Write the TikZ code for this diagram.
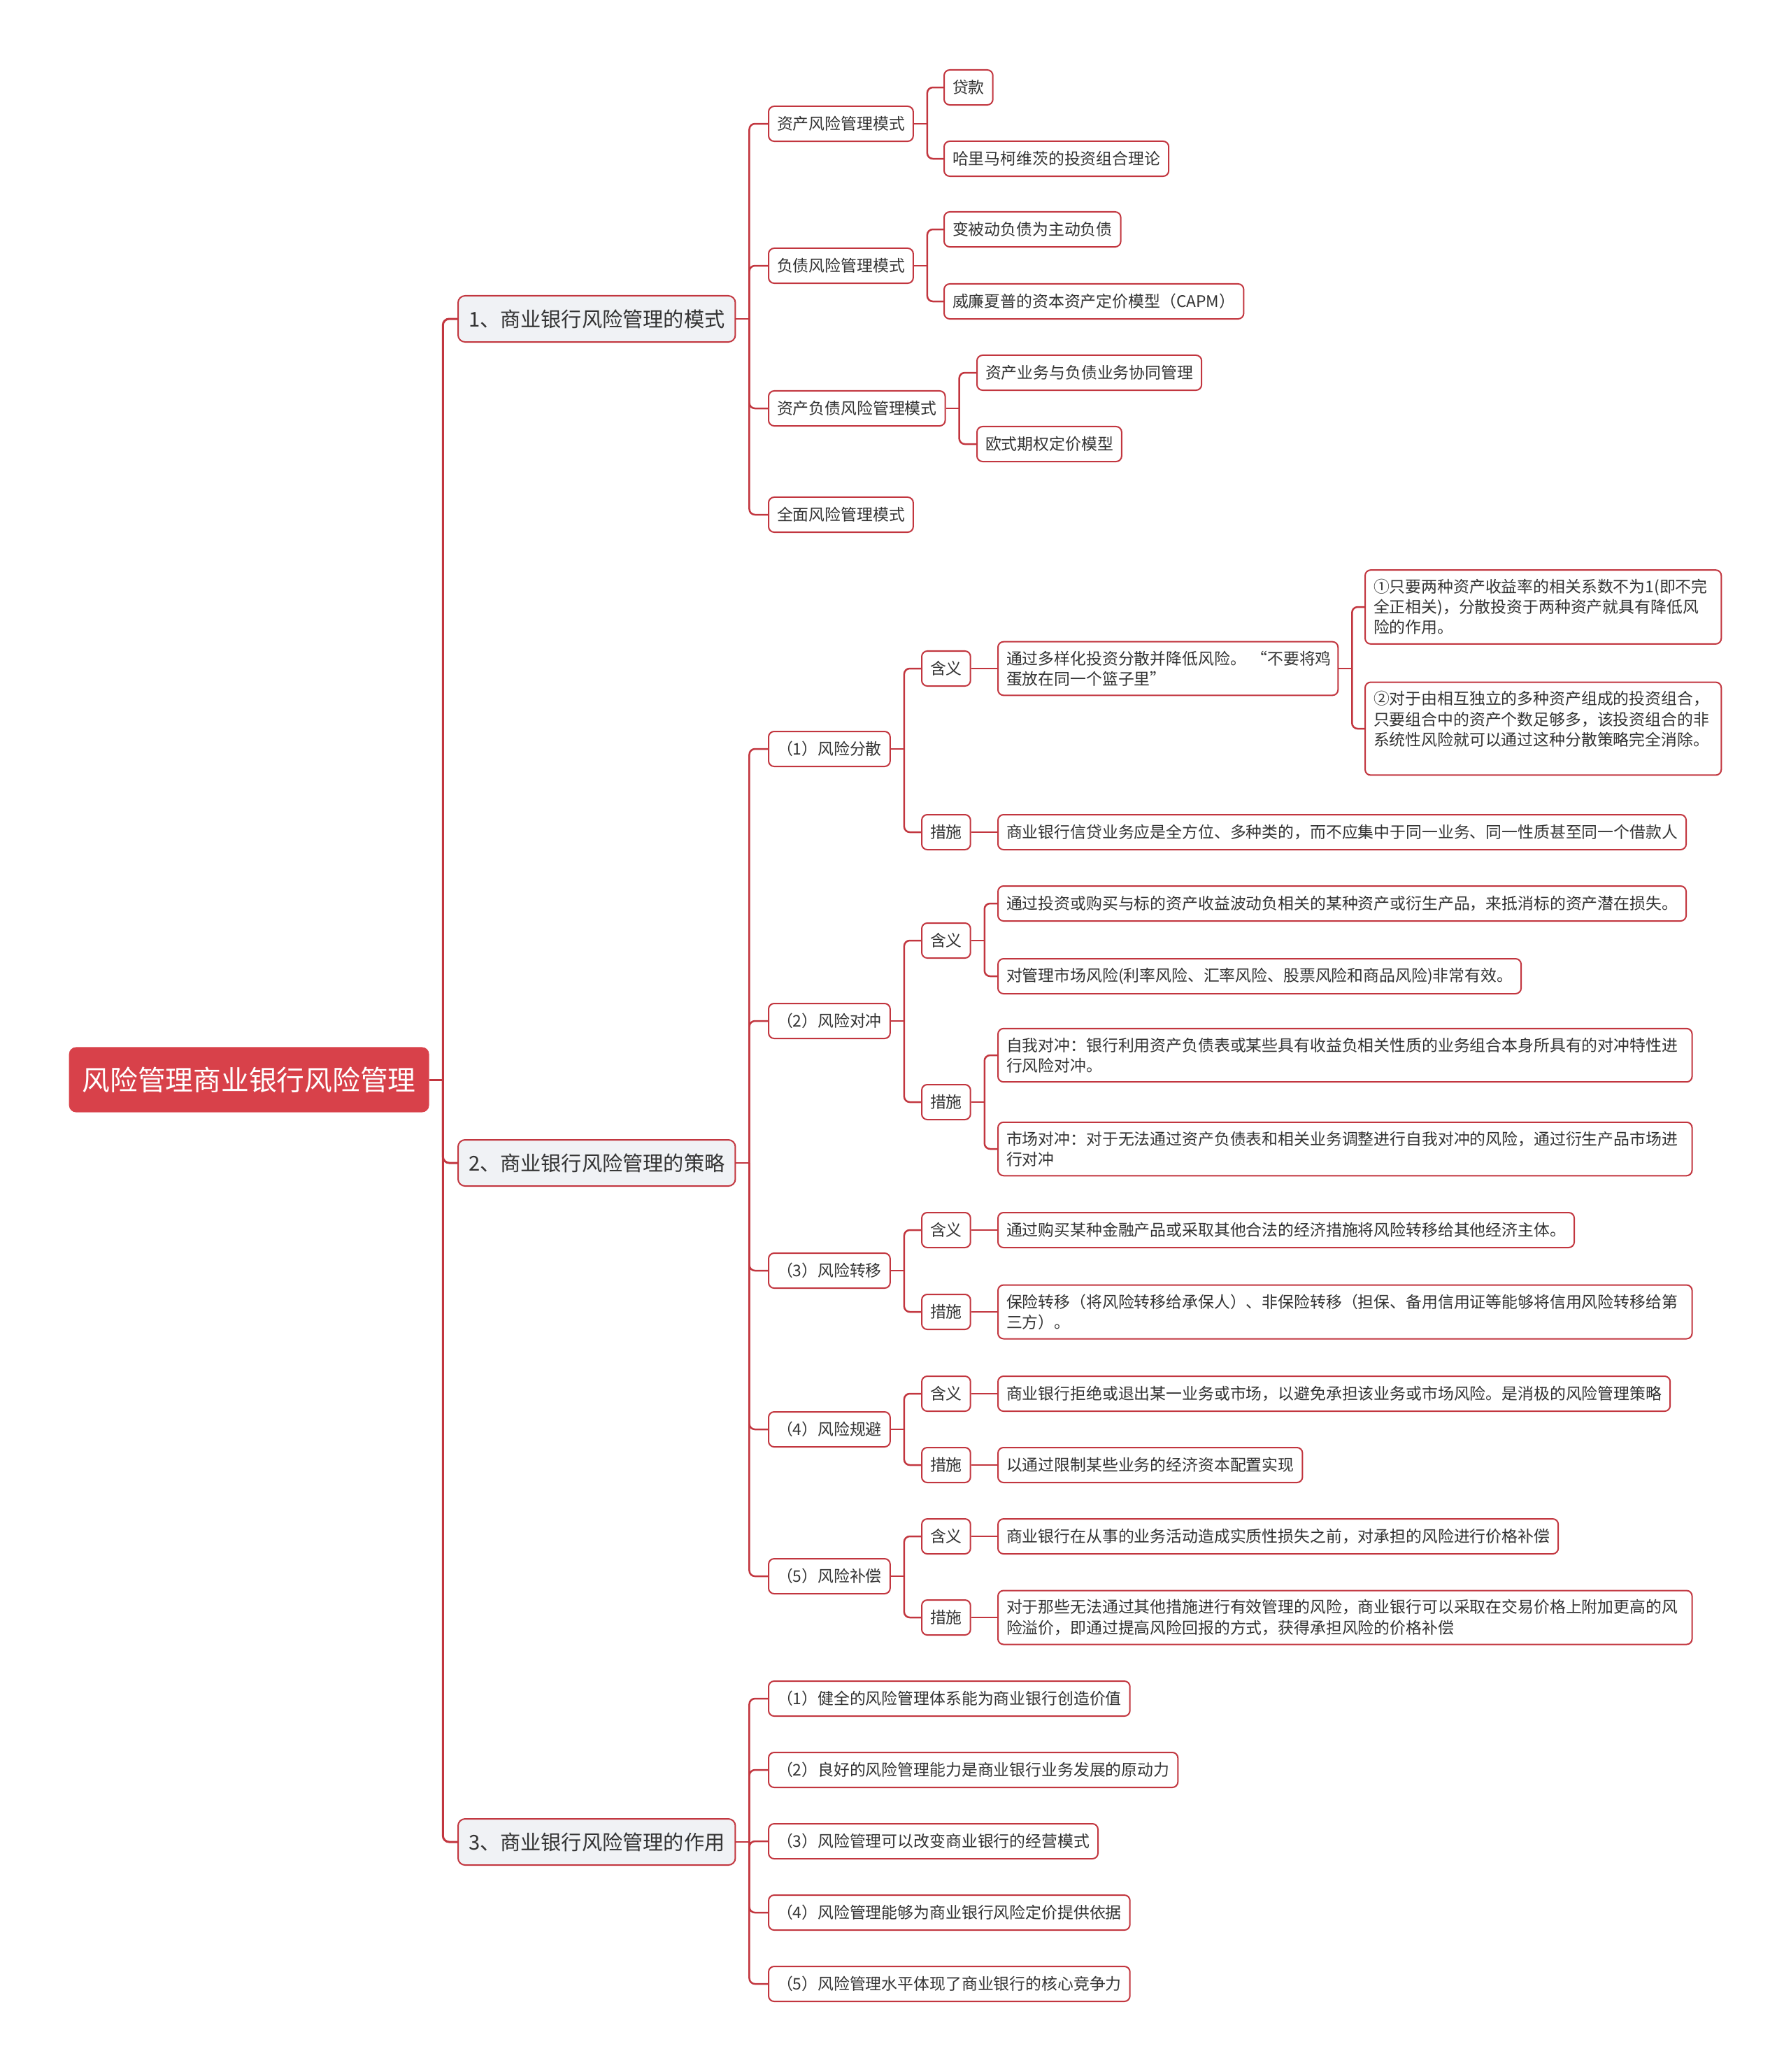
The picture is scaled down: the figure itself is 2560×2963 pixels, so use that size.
\documentclass[tikz,border=0pt]{standalone}
\usepackage{fontspec}
\setmainfont{Noto Sans CJK SC}

\definecolor{rootred}{HTML}{D8414A}
\definecolor{linered}{HTML}{C2363F}
\definecolor{topicgrey}{HTML}{F0F2F5}
\definecolor{inkgrey}{HTML}{333333}

\tikzstyle{rootbox} = [rectangle, rounded corners=1mm, fill=rootred, text=white,
    font=\fontsize{11.3}{13}\selectfont, inner xsep=1.9mm, minimum height=0.93cm, anchor=west]
\tikzstyle{topicbox} = [rectangle, rounded corners=1mm, draw=linered, line width=0.2mm,
    fill=topicgrey, text=inkgrey, font=\fontsize{8.3}{10}\selectfont,
    inner xsep=1.5mm, minimum height=0.66cm, anchor=west]
\tikzstyle{leafbox} = [rectangle, rounded corners=0.8mm, draw=linered, line width=0.2mm,
    fill=white, text=inkgrey, font=\fontsize{6.5}{8.3}\selectfont,
    inner xsep=1.2mm, inner ysep=1.3mm, minimum height=0.5cm, anchor=west]
\tikzstyle{parabox} = [leafbox, text width=9.68cm, align=left]
\tikzstyle{trunk} = [draw=linered, line width=0.3mm, rounded corners=0.9mm]
\tikzstyle{branch} = [draw=linered, line width=0.25mm, rounded corners=0.8mm]

\begin{document}
\begin{tikzpicture}[x=0.01cm, y=-0.01cm]
\useasboundingbox (0,0) rectangle (2560,2963);

\node (Root) [rootbox] at (98,1544) {风险管理商业银行风险管理};

%Topics
\node (Modes) [topicbox] at (654,456) {1、商业银行风险管理的模式};
\node (Strategy) [topicbox] at (654,1663) {2、商业银行风险管理的策略};
\node (Role) [topicbox] at (654,2634) {3、商业银行风险管理的作用};

%Modes
\node (AssetMode) [leafbox] at (1098,177) {资产风险管理模式};
\node (Loan) [leafbox] at (1349,125) {贷款};
\node (Markowitz) [leafbox] at (1349,227) {哈里马柯维茨的投资组合理论};
\node (LiabMode) [leafbox] at (1098,380) {负债风险管理模式};
\node (ActiveLiab) [leafbox] at (1349,328) {变被动负债为主动负债};
\node (Capm) [leafbox] at (1349,431) {威廉夏普的资本资产定价模型（CAPM）};
\node (AlmMode) [leafbox] at (1098,584) {资产负债风险管理模式};
\node (Synergy) [leafbox] at (1396,533) {资产业务与负债业务协同管理};
\node (OptionModel) [leafbox] at (1396,635) {欧式期权定价模型};
\node (TotalMode) [leafbox] at (1098,736) {全面风险管理模式};

%Strategies
\node (Diversify) [leafbox] at (1098,1071) {（1）风险分散};
\node (DivMean) [leafbox] at (1317,956) {含义};
\node (DivText) [leafbox, text width=4.62cm, align=left] at (1426,956)
    {通过多样化投资分散并降低风险。~“不要将鸡\\蛋放在同一个篮子里”};
\node (DivPointA) [leafbox, text width=4.85cm, align=left] at (1951,868)
    {①只要两种资产收益率的相关系数不为1(即不完\\全正相关)，分散投资于两种资产就具有降低风\\险的作用。};
\node (DivPointB) [leafbox, text width=4.85cm, align=left] at (1951,1042)
    {②对于由相互独立的多种资产组成的投资组合，\\只要组合中的资产个数足够多，该投资组合的非\\系统性风险就可以通过这种分散策略完全消除。\\ \mbox{}};
\node (DivMeasure) [leafbox] at (1317,1190) {措施};
\node (DivMeasureText) [leafbox] at (1426,1190) {商业银行信贷业务应是全方位、多种类的，而不应集中于同一业务、同一性质甚至同一个借款人};

\node (Hedge) [leafbox] at (1098,1460) {（2）风险对冲};
\node (HedgeMean) [leafbox] at (1317,1345) {含义};
\node (HedgeMeanA) [leafbox] at (1426,1292) {通过投资或购买与标的资产收益波动负相关的某种资产或衍生产品，来抵消标的资产潜在损失。};
\node (HedgeMeanB) [leafbox] at (1426,1396) {对管理市场风险(利率风险、汇率风险、股票风险和商品风险)非常有效。};
\node (HedgeMeasure) [leafbox] at (1317,1576) {措施};
\node (HedgeSelf) [parabox] at (1426,1509) {自我对冲：银行利用资产负债表或某些具有收益负相关性质的业务组合本身所具有的对冲特性进\\行风险对冲。};
\node (HedgeMarket) [parabox] at (1426,1643) {市场对冲：对于无法通过资产负债表和相关业务调整进行自我对冲的风险，通过衍生产品市场进\\行对冲};

\node (Transfer) [leafbox] at (1098,1817) {（3）风险转移};
\node (TransferMean) [leafbox] at (1317,1759) {含义};
\node (TransferMeanText) [leafbox] at (1426,1759) {通过购买某种金融产品或采取其他合法的经济措施将风险转移给其他经济主体。};
\node (TransferMeasure) [leafbox] at (1317,1876) {措施};
\node (TransferMeasureText) [parabox] at (1426,1876) {保险转移（将风险转移给承保人）、非保险转移（担保、备用信用证等能够将信用风险转移给第\\三方）。};

\node (Avoid) [leafbox] at (1098,2044) {（4）风险规避};
\node (AvoidMean) [leafbox] at (1317,1993) {含义};
\node (AvoidMeanText) [leafbox] at (1426,1993) {商业银行拒绝或退出某一业务或市场，以避免承担该业务或市场风险。是消极的风险管理策略};
\node (AvoidMeasure) [leafbox] at (1317,2095) {措施};
\node (AvoidMeasureText) [leafbox] at (1426,2095) {以通过限制某些业务的经济资本配置实现};

\node (Offset) [leafbox] at (1098,2254) {（5）风险补偿};
\node (OffsetMean) [leafbox] at (1317,2197) {含义};
\node (OffsetMeanText) [leafbox] at (1426,2197) {商业银行在从事的业务活动造成实质性损失之前，对承担的风险进行价格补偿};
\node (OffsetMeasure) [leafbox] at (1317,2313) {措施};
\node (OffsetMeasureText) [parabox] at (1426,2313) {对于那些无法通过其他措施进行有效管理的风险，商业银行可以采取在交易价格上附加更高的风\\险溢价，即通过提高风险回报的方式，获得承担风险的价格补偿};

%Roles
\node (RoleA) [leafbox] at (1098,2429) {（1）健全的风险管理体系能为商业银行创造价值};
\node (RoleB) [leafbox] at (1098,2531) {（2）良好的风险管理能力是商业银行业务发展的原动力};
\node (RoleC) [leafbox] at (1098,2633) {（3）风险管理可以改变商业银行的经营模式};
\node (RoleD) [leafbox] at (1098,2735) {（4）风险管理能够为商业银行风险定价提供依据};
\node (RoleE) [leafbox] at (1098,2837) {（5）风险管理水平体现了商业银行的核心竞争力};

%Connectors
\coordinate (Root-j) at ([xshift=1.9mm]Root.east);
\path [trunk] (Root.east) -- (Root-j);
\foreach \n in {Modes,Strategy,Role}
    \path [trunk] (Root-j) |- (\n.west);

\foreach \p/\kids in {Modes/{AssetMode,LiabMode,AlmMode,TotalMode},
    Strategy/{Diversify,Hedge,Transfer,Avoid,Offset},
    Role/{RoleA,RoleB,RoleC,RoleD,RoleE},
    AssetMode/{Loan,Markowitz}, LiabMode/{ActiveLiab,Capm}, AlmMode/{Synergy,OptionModel},
    Diversify/{DivMean,DivMeasure}, DivText/{DivPointA,DivPointB},
    Hedge/{HedgeMean,HedgeMeasure}, HedgeMean/{HedgeMeanA,HedgeMeanB},
    HedgeMeasure/{HedgeSelf,HedgeMarket},
    Transfer/{TransferMean,TransferMeasure}, Avoid/{AvoidMean,AvoidMeasure},
    Offset/{OffsetMean,OffsetMeasure}}
{
    \coordinate (\p-j) at ([xshift=1.9mm]\p.east);
    \path [branch] (\p.east) -- (\p-j);
    \foreach \k in \kids
        \path [branch] (\p-j) |- (\k.west);
}

%Single links
\foreach \p/\k in {DivMean/DivText, DivMeasure/DivMeasureText,
    TransferMean/TransferMeanText, TransferMeasure/TransferMeasureText,
    AvoidMean/AvoidMeanText, AvoidMeasure/AvoidMeasureText,
    OffsetMean/OffsetMeanText, OffsetMeasure/OffsetMeasureText}
    \path [branch] (\p.east) -- (\k.west);

\end{tikzpicture}
\end{document}
